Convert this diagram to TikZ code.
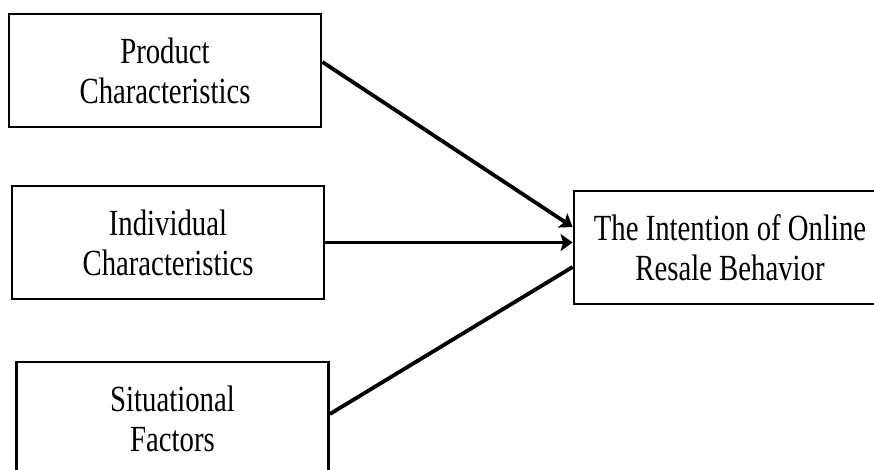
\documentclass[tikz,border=0pt]{standalone}
\usepackage{fontspec}
\setmainfont{Liberation Serif}[FakeStretch=0.78]
\usetikzlibrary{arrows.meta,positioning}
\tikzset{
  factor/.style={draw, line width=2.8bp, minimum width=312bp, minimum height=113bp,
    align=center, inner sep=0pt, font=\fontsize{37}{40}\selectfont},
  link/.style={line width=3.8bp, -{Stealth[length=12bp,width=17bp,inset=2.5bp]}}
}
\begin{document}
\begin{tikzpicture}[x=1bp,y=-1bp]
      \clip (0,0) rectangle (874,470);
      \useasboundingbox (0,0) rectangle (874,470);
      \draw
        (165,70.5) node[factor] (prod){Product\\Characteristics}
        (168,242.5) node[factor] (indiv){Individual\\Characteristics}
        (172.5,418.5) node[factor] (situ){Situational\\Factors}
        (730,247.5) node[factor] (intent){The Intention of Online\\Resale Behavior};
      \begin{scope}[link]
        \draw ([yshift=8.5bp]prod.east) to ([yshift=20.5bp]intent.west);
        \draw (indiv.east) to (indiv.east -| intent.west);
        \draw[-] ([yshift=4.5bp]situ.east) to ([yshift=-19.5bp]intent.west);
      \end{scope}
    \end{tikzpicture}
\end{document}
